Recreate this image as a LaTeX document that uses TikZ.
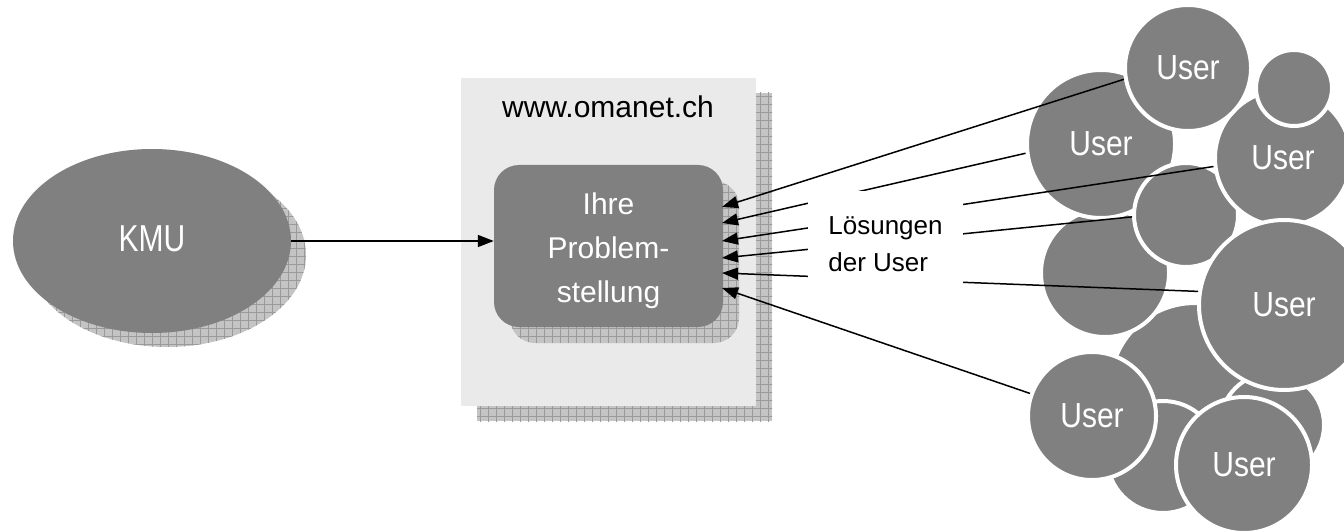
\documentclass[tikz,border=0pt]{standalone}
\usepackage{fontspec}
\setmainfont{Liberation Sans}
\usetikzlibrary{shapes.geometric,arrows.meta}
\definecolor{ugray}{HTML}{808080}
\definecolor{boxgray}{HTML}{EAEAEA}
\definecolor{hbase}{HTML}{C4C4C4}
\definecolor{hline}{HTML}{9A9A9A}
\newcommand\hatchfill[1]{%
  \fill[hbase] #1;
  \begin{scope}
    \clip #1;
    \draw[hline, line width=0.8bp, step=8bp] (0,532) grid (1344,0);
  \end{scope}}
\newcommand\tallU[1]{\scalebox{1}[1.16]{#1}}
\tikzset{
  bigfont/.style={font=\fontsize{30bp}{44bp}\selectfont},
  ucirc/.style={circle, fill=ugray, draw=white, line width=4bp, text=white,
    inner sep=0pt, bigfont},
  arr/.style={line width=1.5bp, draw=black, -{Triangle[length=16bp,width=12bp]}},
}
\begin{document}
\begin{tikzpicture}[x=1bp,y=-1bp]
\useasboundingbox (0,0) rectangle (1344,532);

% KMU with hatched shadow
\hatchfill{(167,255) ellipse [x radius=139bp, y radius=92bp]}
\node[ellipse, fill=ugray, text=white, inner sep=0pt, minimum width=278bp,
  minimum height=184bp, bigfont] (kmu) at (152,241)
  {\raisebox{4bp}{\scalebox{1}[1.25]{KMU}}};

% omanet box
\hatchfill{(477,93) rectangle (772,421)}
\node[rectangle, fill=boxgray, inner sep=0pt, minimum width=295bp,
  minimum height=328bp] (oma) at (608.5,242) {};
\node[bigfont, inner sep=0pt] (omtxt) at (608,107) {www.omanet.ch};

% problem box
\hatchfill{[rounded corners=25bp] (510,181) rectangle (739,343)}
\node[rectangle, rounded corners=25bp, fill=ugray, text=white, inner sep=0pt,
  minimum width=229bp, minimum height=162bp, align=center, bigfont] (prob)
  at (608.5,246) {\rule{0pt}{32bp}Ihre\\Problem-\\stellung};

% user cluster (back to front)
\node[ucirc, minimum size=170bp] (uH) at (1195,388) {};
\node[ucirc, minimum size=104bp] (uM) at (1272,425) {};
\node[ucirc, minimum size=112bp] (uL) at (1163,457) {};
\node[ucirc, minimum size=128bp] (uE) at (1105,273) {};
\node[ucirc, minimum size=148bp] (uB) at (1101,144) {\tallU{User}};
\node[ucirc, minimum size=104bp] (uD) at (1186,215) {};
\node[ucirc, minimum size=136bp] (uF) at (1283,158) {\tallU{User}};
\node[ucirc, minimum size=76bp]  (uC) at (1294,88) {};
\node[ucirc, minimum size=126bp] (uA) at (1188,68) {\tallU{User}};
\node[ucirc, minimum size=170bp] (uG) at (1284,305) {\tallU{User}};
\node[ucirc, minimum size=128bp] (uJ) at (1092,416) {\tallU{User}};
\node[ucirc, minimum size=136bp] (uK) at (1244,465) {\tallU{User}};

% arrow targets on the problem box
\coordinate (p1) at (722,207);
\coordinate (p2) at (722,223);
\coordinate (p3) at (722,241);
\coordinate (p4) at (722,258);
\coordinate (p5) at (722,273);
\coordinate (p6) at (722,288);

\draw[arr] (kmu) -- (prob.west |- kmu);
\draw[arr] (uA.190) -- (p1);
\draw[arr] (uB.187) -- (p2);
\draw[arr] (uF.187) -- (p3);
\draw[arr] (uD.182) -- (p4);
\draw[arr] (uG.171) -- (p5);
\draw[arr] (uJ.160) -- (p6);

% label
\node[fill=white, inner sep=0pt, minimum width=155bp, minimum height=106bp,
  align=left, font=\fontsize{26bp}{37bp}\selectfont] (lsg) at (885.5,244)
  {L\"osungen\\der User};
\end{tikzpicture}
\end{document}
